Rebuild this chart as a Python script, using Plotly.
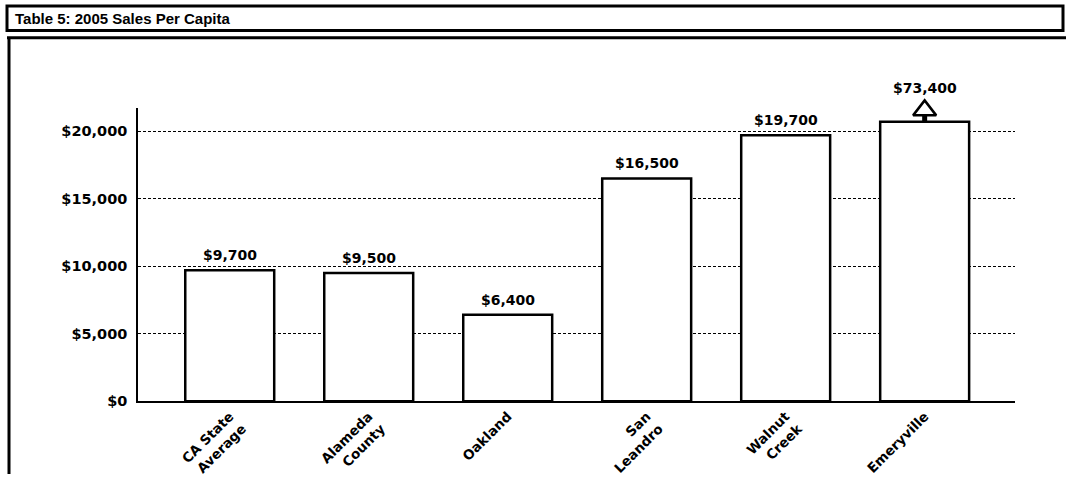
import plotly.graph_objects as go

# ---- data ----
categories = ["CA State<br>Average", "Alameda<br>County", "Oakland",
              "San<br>Leandro", "Walnut<br>Creek", "Emeryville"]
sales_per_capita = [9700, 9500, 6400, 16500, 19700, 73400]
axis_cap = 20700          # bars above this are drawn truncated with an arrow
y_ticks = [0, 5000, 10000, 15000, 20000]
y_tick_labels = [f"${v:,}" for v in y_ticks]
title_text = "Table 5: 2005 Sales Per Capita"

W, H = 1066, 482
PLOT_L, PLOT_R, PLOT_T, PLOT_B = 138, 1015, 110, 408
Y_MAX = 21700
px = lambda x: x / W
py = lambda y: 1 - y / H
y_per_px = Y_MAX / (PLOT_B - PLOT_T)

bar_heights = [min(v, axis_cap) for v in sales_per_capita]

fig = go.Figure()
fig.add_trace(go.Bar(
    x=categories, y=bar_heights, width=0.64,
    marker=dict(color="white", line=dict(color="black", width=2.5)),
    hoverinfo="skip", showlegend=False,
))

# "value exceeds axis" arrows for truncated bars
trunc_x = [c for c, v in zip(categories, sales_per_capita) if v > axis_cap]
for c in trunc_x:
    fig.add_trace(go.Scatter(
        x=[c, c], y=[axis_cap, axis_cap + 7 * y_per_px], mode="lines",
        line=dict(color="black", width=5), cliponaxis=False,
        hoverinfo="skip", showlegend=False,
    ))
fig.add_trace(go.Scatter(
    x=trunc_x, y=[axis_cap + 11.5 * y_per_px] * len(trunc_x), mode="markers",
    marker=dict(symbol="triangle-up", size=20, color="white",
                line=dict(color="black", width=2.5)),
    cliponaxis=False, hoverinfo="skip", showlegend=False,
))

annotations = []
for cat, v, h in zip(categories, sales_per_capita, bar_heights):
    truncated = v > axis_cap
    annotations.append(dict(
        x=cat, y=h, xref="x", yref="y", text=f"${v:,}",
        showarrow=False, yanchor="bottom", yshift=24 if truncated else 5,
        font=dict(family="DejaVu Sans", size=14, color="black", weight="bold"),
    ))

annotations.append(dict(
    x=px(13), y=py(18.5), xref="paper", yref="paper", text=title_text,
    showarrow=False, xanchor="left", yanchor="middle",
    font=dict(family="Liberation Sans Narrow, Liberation Sans", size=15, color="black", weight="bold"),
))

shapes = [
    dict(type="rect", xref="paper", yref="paper", x0=px(7), x1=px(1063), y0=py(31), y1=py(6),
         line=dict(color="black", width=3), fillcolor="rgba(0,0,0,0)"),
    dict(type="line", xref="paper", yref="paper", x0=px(7), x1=px(1066), y0=py(38.5), y1=py(38.5),
         line=dict(color="black", width=3)),
    dict(type="line", xref="paper", yref="paper", x0=px(9), x1=px(9), y0=py(38), y1=py(482),
         line=dict(color="black", width=3)),
]

fig.update_layout(
    width=W, height=H, autosize=False,
    margin=dict(l=0, r=0, t=0, b=0),
    paper_bgcolor="white", plot_bgcolor="white",
    font=dict(family="DejaVu Sans", color="black"),
    annotations=annotations, shapes=shapes,
    xaxis=dict(
        domain=[px(PLOT_L), px(PLOT_R)], range=[-0.66, 5.65],
        showgrid=False, zeroline=False,
        showline=True, linecolor="black", linewidth=2,
        tickangle=-45, ticks="",
        tickfont=dict(family="DejaVu Sans", size=13.5, color="black", weight="bold"),
    ),
    yaxis=dict(
        domain=[py(PLOT_B), py(PLOT_T)], range=[0, Y_MAX],
        tickvals=y_ticks, ticktext=y_tick_labels,
        showgrid=True, gridcolor="black", gridwidth=1, griddash="3px,2px",
        zeroline=False, showline=True, linecolor="black", linewidth=1.5,
        ticks="", ticklabelstandoff=6,
        tickfont=dict(family="DejaVu Sans", size=14.5, color="black", weight="bold"),
    ),
)

fig.write_html("out.html", config={"displayModeBar": False},
               post_script="document.body.style.margin='0';document.body.style.overflow='hidden';")
